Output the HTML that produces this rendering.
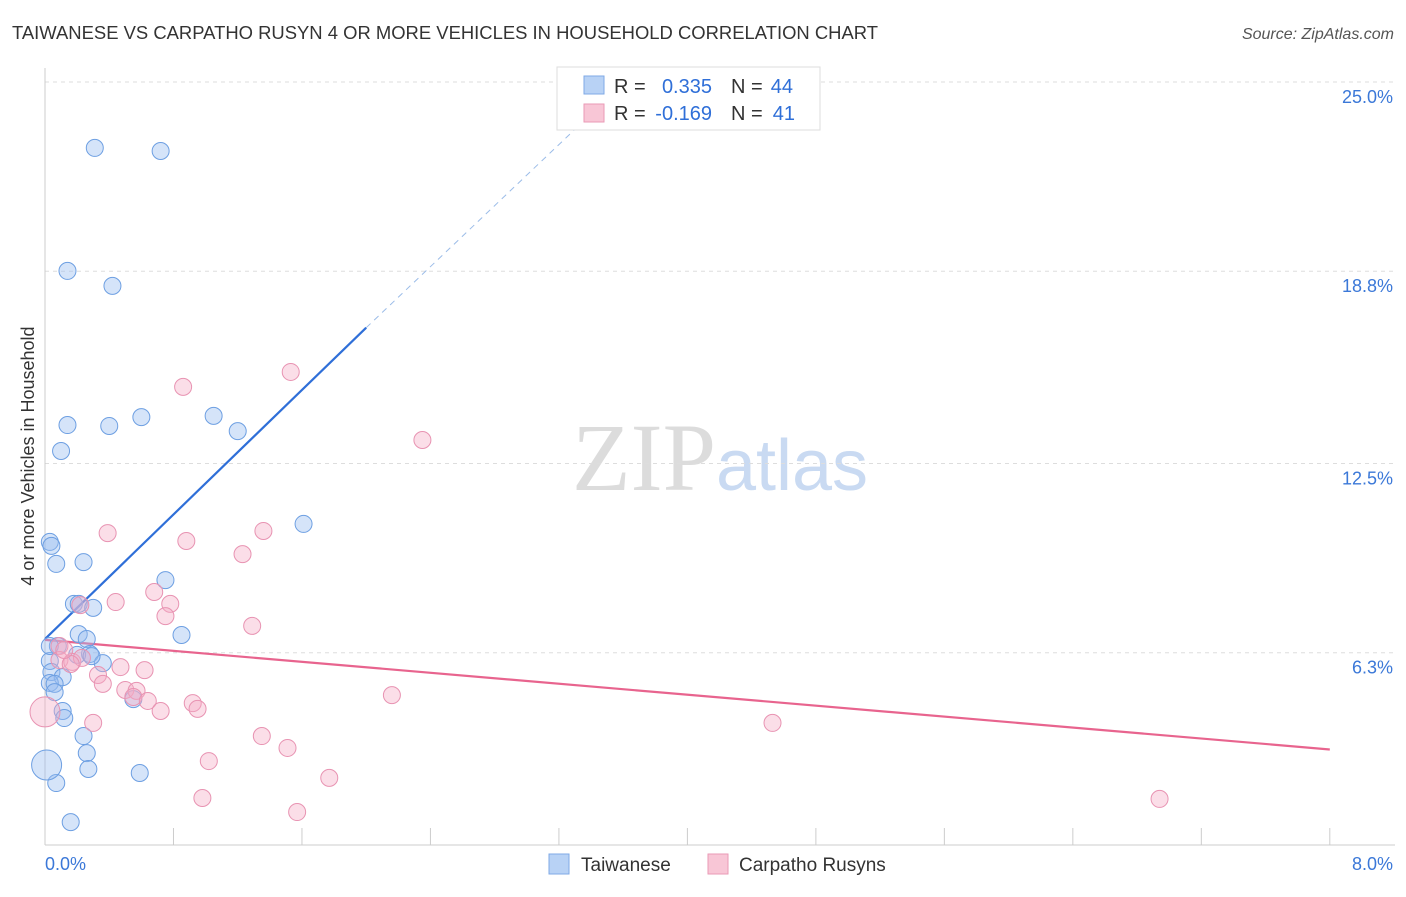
<!DOCTYPE html>
<html><head><meta charset="utf-8"><style>
body{margin:0;background:#fff;font-family:"Liberation Sans",sans-serif}
svg text{font-family:"Liberation Sans",sans-serif}
</style></head><body>
<svg id="chart" width="1406" height="892" viewBox="0 0 1406 892">
<text x="12" y="39" font-size="18.4" fill="#333" textLength="866" lengthAdjust="spacingAndGlyphs">TAIWANESE VS CARPATHO RUSYN 4 OR MORE VEHICLES IN HOUSEHOLD CORRELATION CHART</text>
<text x="1394" y="39" font-size="16" fill="#555" font-style="italic" text-anchor="end">Source: ZipAtlas.com</text>
<text x="720" y="490" font-size="96" text-anchor="middle"><tspan fill="#dcdcdc" font-family="Liberation Serif">ZIP</tspan><tspan fill="#c9daf2" font-size="72">atlas</tspan></text>
<text transform="translate(34,456) rotate(-90)" font-size="18" fill="#333" text-anchor="middle">4 or more Vehicles in Household</text>
<g id="grid"></g><g id="axes"></g><g id="lines"></g><g id="pts"></g>
<g>
<rect x="557" y="67" width="263" height="63" fill="#fff" stroke="#ddd"/>
<rect x="584" y="76" width="20" height="18" fill="#b8d2f5" stroke="#7fa9e6"/>
<text x="614" y="93" font-size="20" fill="#333">R =</text>
<text x="712" y="93" font-size="20" fill="#2f6fd8" text-anchor="end">0.335</text>
<text x="731" y="93" font-size="20" fill="#333">N =</text>
<text x="793" y="93" font-size="20" fill="#2f6fd8" text-anchor="end">44</text>
<rect x="584" y="104" width="20" height="18" fill="#f8c6d6" stroke="#ea9ab6"/>
<text x="614" y="120" font-size="20" fill="#333">R =</text>
<text x="712" y="120" font-size="20" fill="#2f6fd8" text-anchor="end">-0.169</text>
<text x="731" y="120" font-size="20" fill="#333">N =</text>
<text x="795" y="120" font-size="20" fill="#2f6fd8" text-anchor="end">41</text>
</g>
<g>
<rect x="549" y="854" width="20" height="20" fill="#b8d2f5" stroke="#7fa9e6"/>
<text x="581" y="871" font-size="19" fill="#333">Taiwanese</text>
<rect x="708" y="854" width="20" height="20" fill="#f8c6d6" stroke="#ea9ab6"/>
<text x="739" y="871" font-size="19" fill="#333">Carpatho Rusyns</text>
</g>
</svg>
<script>
const yTicks=[6.3,12.5,18.8,25.0];
const xTickLabels=["0.0%","8.0%"];
const blueX=[0.31,0.72,0.14,0.42,0.14,0.40,0.60,1.05,1.20,0.10,1.61,0.03,0.04,0.07,0.24,0.75,0.18,0.21,0.30,0.85,0.21,0.26,0.08,0.28,0.36,0.20,0.29,0.03,0.04,0.11,0.03,0.06,0.06,0.55,0.11,0.12,0.24,0.26,0.27,0.59,0.07,0.16,0.01,0.03];
const blueY=[22.84,22.74,18.81,18.32,13.76,13.73,14.02,14.06,13.56,12.91,10.52,9.93,9.80,9.21,9.27,8.68,7.90,7.90,7.77,6.88,6.91,6.75,6.52,6.26,5.96,6.23,6.19,6.03,5.67,5.50,5.31,5.28,5.01,4.78,4.39,4.16,3.57,3.01,2.49,2.36,2.03,0.75,2.62,6.52];
const pinkX=[0.86,1.53,2.35,0.39,1.36,0.88,1.23,0.68,0.44,0.78,0.75,1.29,0.09,0.09,0.17,0.23,0.16,0.47,0.62,0.33,0.36,0.50,0.57,0.55,0.64,0.92,0.95,0.72,2.16,0.30,1.35,1.51,4.53,1.02,1.77,0.98,1.57,6.94,0.0,0.12,0.22];
const pinkY=[15.01,15.50,13.27,10.22,10.29,9.96,9.53,8.29,7.96,7.90,7.50,7.18,6.52,6.06,6.00,6.13,5.93,5.83,5.73,5.57,5.28,5.08,5.05,4.85,4.72,4.65,4.46,4.39,4.91,4.00,3.57,3.18,4.00,2.75,2.20,1.54,1.08,1.51,4.36,6.39,7.86];
const blueTrend=[[0,6.75],[2.0,16.95]],blueDash=[[2.0,16.95],[3.35,23.7]];
const pinkTrend=[[0,6.72],[8.0,3.13]];
const X=v=>45+v*160.6, Y=v=>845-v*30.52;
const NS="http://www.w3.org/2000/svg";
function mk(t,a,p){const e=document.createElementNS(NS,t);for(const k in a)e.setAttribute(k,a[k]);document.getElementById(p).appendChild(e);return e;}
yTicks.forEach(t=>{
 const l=mk('line',{x1:45,x2:1395,y1:Y(t),y2:Y(t),stroke:'#ddd','stroke-dasharray':'4,4'},'grid');
 
 
 const tx=mk('text',{x:1393,y:Y(t)+21,'font-size':18,fill:'#3b78d8','text-anchor':'end'},'grid');
 
 
 tx.textContent=t.toFixed(1)+'%';
});
const ax=mk('line',{x1:45,x2:45,y1:68,y2:845,stroke:'#ccc'},'axes');


const bx=mk('line',{x1:45,x2:1395,y1:845,y2:845,stroke:'#ccc'},'axes');


for(let i=0;i<=10;i++){const tk=mk('line',{x1:X(i*0.8),x2:X(i*0.8),y1:828,y2:845,stroke:'#ccc'},'axes');
 
 }
[[0,'start',45],[1,'end',1393]].forEach(([i,a,x])=>{const t=mk('text',{x:x,y:870,'font-size':18,fill:'#3b78d8','text-anchor':a},'axes');
 
 
 t.textContent=xTickLabels[i];});
function line(pts,c,dash,name){const l=mk('line',{x1:X(pts[0][0]),y1:Y(pts[0][1]),x2:X(pts[1][0]),y2:Y(pts[1][1]),stroke:c,'stroke-width':dash?1:2.2},'lines');
 if(dash)l.setAttribute('stroke-dasharray','6,5');
 
 }
line(blueTrend,'#2f6fd8',false,'taiwanese-trend-line');
line(blueDash,'#9bbce8',true,'taiwanese-trend-extension');
line(pinkTrend,'#e8648e',false,'carpatho-trend-line');
function pts(xs,ys,f,s,name,bigIdx){xs.forEach((x,i)=>{const c=mk('circle',{cx:X(x),cy:Y(ys[i]),r:bigIdx.includes(i)?15:8.5,fill:f,stroke:s,'stroke-width':1},'pts');
 
 });}
pts(blueX,blueY,'rgba(150,188,240,0.4)','#6d9fe2','taiwanese-point',[42]);
pts(pinkX,pinkY,'rgba(246,172,198,0.4)','#e893b2','carpatho-point',[38]);
</script>
</body></html>
